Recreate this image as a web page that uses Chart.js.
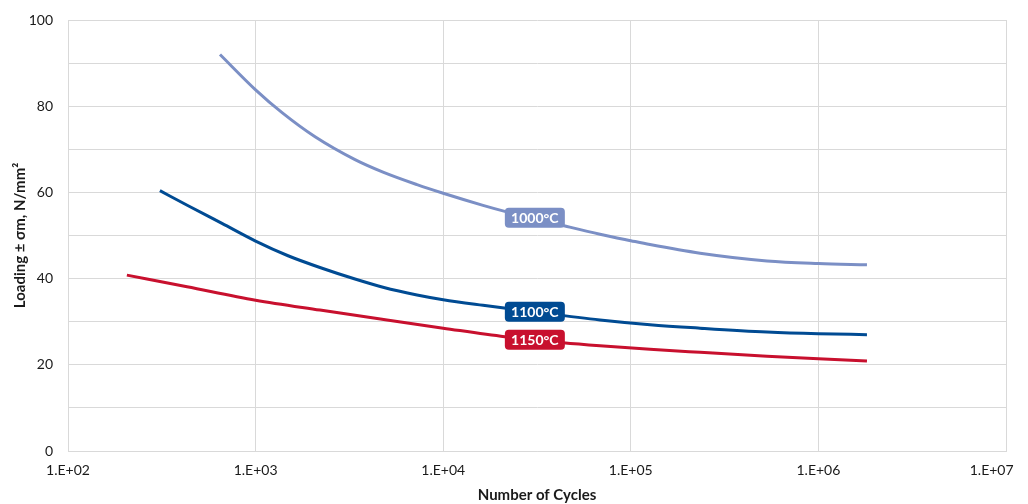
<!DOCTYPE html>
<html>
<head>
<meta charset="utf-8">
<script src="https://cdn.jsdelivr.net/npm/chart.js@4"></script>
<style>
  html, body { margin: 0; padding: 0; background: #fff; }
  #wrap { width: 1028px; height: 504px; }
</style>
</head>
<body>
<div id="wrap"><canvas id="chart" width="1028" height="504"></canvas></div>
<script>
// values (cycles, N/mm²)
const cycles1000 = [646, 1000, 1384, 2075, 3388, 4777, 7250, 10000, 16300, 21300, 44600, 68500, 100000, 126500, 234000, 532000, 1000000, 1815000];
const load1000 = [92.0, 83.8, 78.5, 72.9, 67.6, 64.7, 61.8, 59.8, 57.0, 55.6, 52.2, 50.3, 48.8, 47.9, 45.9, 44.1, 43.5, 43.2];

const cycles1100 = [309, 437, 662, 1000, 1489, 2262, 3388, 4777, 7250, 10000, 16300, 30100, 68500, 126500, 234000, 532000, 1000000, 1815000];
const load1100 = [60.4, 56.9, 52.8, 48.7, 45.3, 42.4, 39.9, 38.0, 36.2, 35.1, 33.8, 32.3, 30.4, 29.3, 28.5, 27.6, 27.2, 27.0];

const cycles1150 = [206, 431, 1000, 2203, 5012, 10000, 21300, 43500, 68500, 126500, 234000, 532000, 1000000, 1815000];
const load1150 = [40.8, 38.1, 35.0, 32.7, 30.4, 28.5, 26.5, 25.1, 24.4, 23.6, 22.9, 22.0, 21.4, 20.9];

const seriesNames = ['1000°C', '1100°C', '1150°C'];
const seriesColors = ['#7b8fc5', '#004b93', '#c8102e'];

// inline tags on the curves
const tagCycles = [30800, 30800, 30800];
const tagLoads = [54.1, 32.3, 25.8];

const xTicks = [1e2, 1e3, 1e4, 1e5, 1e6, 1e7];

const fontFamily = 'Lato, "DejaVu Sans", sans-serif';
const toPoints = (xs, ys) => xs.map((x, i) => ({ x, y: ys[i] }));

const tagPlugin = {
  id: 'curveTags',
  afterDatasetsDraw(chart) {
    const { ctx, scales } = chart;
    ctx.save();
    ctx.font = `bold 14px ${fontFamily}`;
    ctx.textAlign = 'center';
    ctx.textBaseline = 'middle';
    seriesNames.forEach((name, i) => {
      const cx = scales.x.getPixelForValue(tagCycles[i]);
      const cy = scales.y.getPixelForValue(tagLoads[i]);
      const w = 60, h = 20;
      ctx.fillStyle = seriesColors[i];
      ctx.beginPath();
      ctx.roundRect(cx - w / 2, cy - h / 2, w, h, 4);
      ctx.fill();
      ctx.fillStyle = '#fff';
      ctx.fillText(name, cx, cy + 1);
    });
    ctx.restore();
  },
};

new Chart(document.getElementById('chart'), {
  type: 'line',
  data: {
    datasets: [
      { label: seriesNames[0], data: toPoints(cycles1000, load1000), borderColor: seriesColors[0] },
      { label: seriesNames[1], data: toPoints(cycles1100, load1100), borderColor: seriesColors[1] },
      { label: seriesNames[2], data: toPoints(cycles1150, load1150), borderColor: seriesColors[2] },
    ],
  },
  options: {
    responsive: false,
    animation: false,
    layout: { padding: { top: 20, right: 22, left: 0, bottom: 0 } },
    elements: {
      line: { borderWidth: 3, cubicInterpolationMode: 'monotone', fill: false },
      point: { radius: 0 },
    },
    plugins: { legend: { display: false }, tooltip: { enabled: false } },
    scales: {
      x: {
        type: 'logarithmic',
        min: 1e2,
        max: 1e7,
        afterBuildTicks: (scale) => { scale.ticks = xTicks.map((value) => ({ value })); },
        afterFit: (scale) => { scale.height = 53; scale.paddingRight = 0; scale.paddingLeft = 0; },
        grid: { color: '#d9d9d9', lineWidth: 1, drawTicks: false },
        border: { color: '#d9d9d9' },
        ticks: {
          color: '#1a1a1a',
          font: { family: fontFamily, size: 14 },
          padding: 11,
          maxRotation: 0,
          // last label is nudged left (trailing spaces) so it stays inside the picture
          callback: (v, i, ticks) => '1.E+' + String(Math.round(Math.log10(v))).padStart(2, '0') + (i === ticks.length - 1 ? '        ' : ''),
        },
        title: {
          display: true,
          text: 'Number of Cycles',
          color: '#1a1a1a',
          font: { family: fontFamily, size: 15, weight: 'bold' },
          padding: { top: 0, bottom: 0 },
        },
      },
      y: {
        min: 0,
        max: 100,
        afterFit: (scale) => { scale.width = 68; scale.paddingTop = 0; scale.paddingBottom = 0; },
        grid: { color: '#d9d9d9', lineWidth: 1, drawTicks: false },
        border: { color: '#d9d9d9' },
        ticks: {
          stepSize: 10,
          color: '#1a1a1a',
          font: { family: fontFamily, size: 14 },
          padding: 15,
          callback: (v) => (v % 20 === 0 ? v : ''),
        },
        title: {
          display: true,
          text: 'Loading ± σm, N/mm²',
          color: '#1a1a1a',
          font: { family: fontFamily, size: 15, weight: 'bold' },
          padding: { top: 11, bottom: 0 },
        },
      },
    },
  },
  plugins: [tagPlugin],
});
</script>
</body>
</html>
